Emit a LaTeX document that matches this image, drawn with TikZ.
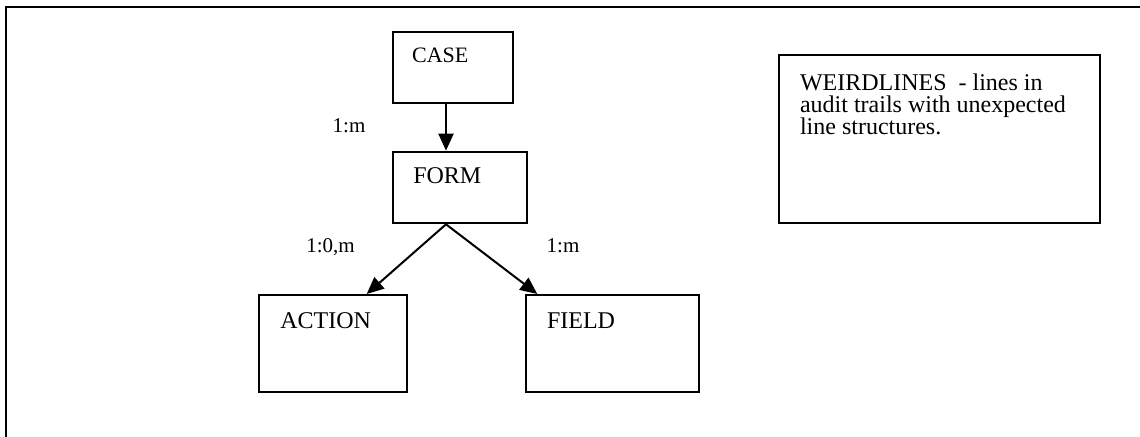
\documentclass[tikz,border=0pt]{standalone}
\usepackage{fontspec}
\setmainfont{Liberation Serif}
\usetikzlibrary{arrows.meta}
\tikzset{
    entity/.style={rectangle, draw, line width=1pt, inner sep=0pt},
    boxsize/.style 2 args={minimum width=#1, minimum height=#2},
    title/.style n args={3}{label={[anchor=north west, inner sep=0pt,
        align=left, xshift=#1, yshift=-#2]north west:#3}},
    every label/.append style={font=\fontsize{12}{11}\selectfont},
    card/.style={inner sep=0pt, anchor=base, font=\fontsize{10.5}{12}\selectfont},
    link/.style={line width=1pt, -{Triangle[length=8.5pt, width=7.5pt]}}
}

\begin{document}
\begin{tikzpicture}[x=0.5pt, y=-0.5pt]
	\useasboundingbox (0,0) rectangle (1140,437);
	\draw[line width=1pt] (1140,7) -- (6,7) -- (6,437);

	\node (case) [entity, boxsize={60pt}{35.8pt},
		title={10pt}{8.6pt}{\fontsize{11}{12}\selectfont CASE}] at (452.7,67.5) {};
	\node (form) [entity, boxsize={67pt}{35.8pt},
		title={10.6pt}{8.4pt}{FORM}] at (459.7,187.5) {};
	\node (action) [entity, boxsize={73.7pt}{48.3pt},
		title={10.8pt}{9.2pt}{ACTION}] at (333,343.3) {};
	\node (field) [entity, boxsize={86.5pt}{48.3pt},
		title={10.8pt}{9.2pt}{FIELD}] at (612.5,343.3) {};
	\node (weird) [entity, boxsize={160.5pt}{84pt},
		title={10.8pt}{9.8pt}{WEIRDLINES\ \ - lines in\\audit trails with unexpected\\line structures.}]
		at (939.5,139.3) {};

	\node (c1) [card] at (349,133) {1:m};
	\node (c2) [card] at (330.5,253) {1:0,m};
	\node (c3) [card] at (563,253) {1:m};

	\draw[link] ([xshift=-3.35pt]case.south) -- ([xshift=-6.85pt]form.north);
	\draw[link] ([xshift=-6.85pt]form.south) -- ([xshift=16.85pt]action.north);
	\draw[link] ([xshift=-6.85pt]form.south) -- ([xshift=6.15pt]field.north west);
\end{tikzpicture}
\end{document}
